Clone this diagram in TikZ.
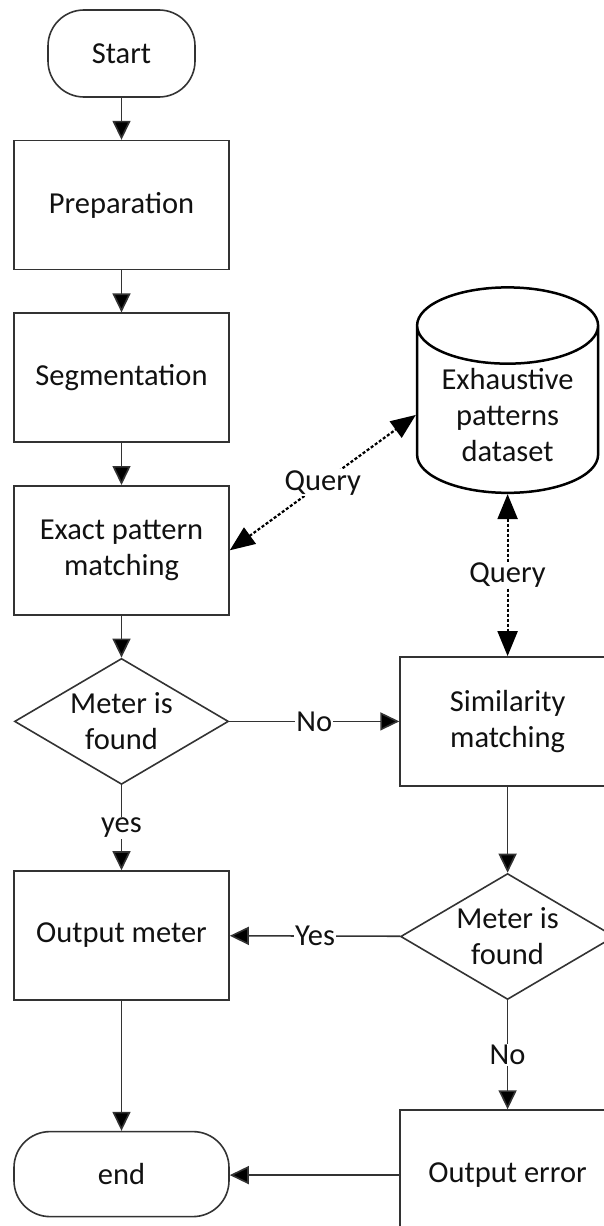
\documentclass[tikz,border=0pt]{standalone}
\usepackage{fontspec}
\setmainfont{Carlito}
\usetikzlibrary{arrows.meta,shapes.geometric,positioning}
\definecolor{linegray}{HTML}{333333}
\definecolor{textgray}{HTML}{111111}
\tikzset{edge/.style = {
    draw=linegray, line width=1.6pt,
    -{Triangle[length=19pt, width=18pt, fill=black]},
  }
}
\tikzset{query/.style = {
    draw=black, line width=2.2pt, dash pattern=on 3pt off 2pt,
    {Triangle[length=25pt, width=20pt]}-{Triangle[length=25pt, width=20pt]},
  }
}

\begin{document}
\begin{tikzpicture}[x=1pt, y=-1pt, font=\fontsize{30.5}{36}\selectfont, text=textgray]
          \useasboundingbox (0,0) rectangle (604,1226);
          % vertices
          \tikzstyle{terminal} = [rectangle, draw=linegray, line width=1.6pt, rounded corners=36pt, minimum width=147pt, minimum height=87pt, align=center]
          \tikzstyle{process} = [rectangle, draw=linegray, line width=1.6pt, minimum width=215pt, minimum height=129pt, align=center]
          \tikzstyle{decision} = [diamond, draw=linegray, line width=1.6pt, aspect=1.7, inner sep=0pt, minimum width=214pt, minimum height=126pt, align=center]
          \tikzstyle{database} = [cylinder, shape border rotate=90, aspect=0.55, draw=black, line width=2.5pt, minimum width=181pt, minimum height=180pt, align=center]
          \tikzstyle{answer} = [fill=white, inner sep=1pt]

          \node[terminal] (start) at (121.5,53.5) {Start};
          \node[process, below=42pt of start] (prep)  {Preparation};
          \node[process, below=42pt of prep]  (seg)   {Segmentation};
          \node[process, below=42pt of seg]   (exact) {Exact pattern\\matching};
          \node[decision, below=42pt of exact] (found1) {Meter is\\found};
          \node[process, below=85pt of found1] (out) {Output meter};
          \node[terminal, below=130pt of out, minimum width=215pt, minimum height=85pt] (stop) {end};

          \node[process, right=170pt of found1] (simil) {Similarity\\matching};
          \node[database, above=162pt of simil] (db) {Exhaustive\\patterns\\dataset};
          \node[decision, below=86pt of simil] (found2) {Meter is\\found};
          \node[process, below=109pt of found2, minimum height=130pt] (err) {Output error};

          % edges
          \draw[edge] (start) -- (prep);
          \draw[edge] (prep) -- (seg);
          \draw[edge] (seg) -- (exact);
          \draw[edge] (exact) -- (found1);
          \draw[edge] (found1) -- node[answer] {No} (simil);
          \draw[edge] (found1) -- node[answer] {yes} (out);
          \draw[edge] (simil) -- (found2);
          \draw[edge] (found2) -- node[answer] {Yes} (out);
          \draw[edge] (found2) -- node[answer] {No} (err);
          \draw[edge] (out) -- (stop);
          \draw[edge] (err.west) -- (err.west -| stop.east);

          \draw[query] (exact.east) -- node[answer] {Query} (db.west);
          \draw[query] (db.south) -- node[answer] {Query} (simil.north);
        \end{tikzpicture}
\end{document}
